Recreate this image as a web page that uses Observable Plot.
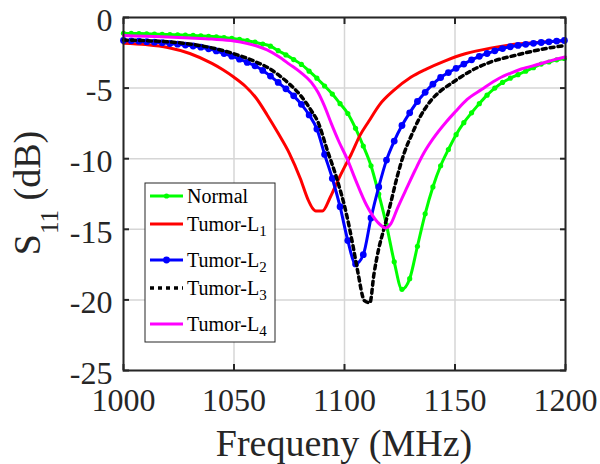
<!DOCTYPE html>
<html><head><meta charset="utf-8">
<script src="https://cdn.jsdelivr.net/npm/d3@7"></script>
<script src="https://cdn.jsdelivr.net/npm/@observablehq/plot@0.6"></script>
<style>
body{margin:0;background:#fff;font-family:'Liberation Serif',Tinos,serif}
#wrap{position:relative;width:600px;height:464px}
#xlabel{position:absolute;left:123px;width:442px;top:421px;text-align:center;font-family:'Liberation Serif',Tinos,serif;font-size:38px;line-height:44px;color:#262626;z-index:2}
</style>
</head><body>
<div id="wrap"><div id="xlabel">Frequeny (MHz)</div><div id="chart"></div></div>
<script>
// Sampling grid of the marked series (MHz)
const freqMarked = d3.range(58).map(i => 1000 + 3.5 * i);
const normal = [-1.12,-1.13,-1.14,-1.15,-1.17,-1.19,-1.21,-1.23,-1.25,-1.27,
  -1.30,-1.33,-1.37,-1.42,-1.48,-1.55,-1.64,-1.75,-1.88,-2.03,
  -2.35,-2.65,-2.98,-3.32,-3.80,-4.30,-4.85,-5.42,-6.10,-6.80,
  -7.85,-9.10,-10.5,-12.5,-14.7,-17.3,-19.25,-18.5,-16.2,-13.9,
  -12.0,-10.5,-9.35,-8.30,-7.45,-6.75,-6.10,-5.50,-5.00,-4.60,
  -4.30,-4.05,-3.80,-3.55,-3.30,-3.15,-3.00,-2.90];
const tumorL2 = [-1.63,-1.65,-1.68,-1.71,-1.75,-1.79,-1.84,-1.89,-1.95,-2.02,
  -2.10,-2.22,-2.37,-2.55,-2.74,-2.95,-3.18,-3.42,-3.75,-4.15,
  -4.60,-5.05,-5.55,-6.15,-6.90,-7.90,-9.70,-11.4,-13.4,-15.8,
  -17.45,-16.8,-14.2,-12.0,-10.1,-8.75,-7.65,-6.75,-5.95,-5.30,
  -4.72,-4.25,-3.90,-3.60,-3.30,-3.00,-2.75,-2.55,-2.36,-2.20,
  -2.07,-1.98,-1.90,-1.83,-1.77,-1.72,-1.67,-1.63];
const tumorL1F = [1000,1010,1020,1030,1040,1045,1050,1055,1060,1065,1070,1075,1080,1083.5,1085.5,1087,1090,1093.5,1097,1100,1103,1107,1111,1116,1122,1130,1137,1145,1155,1166,1178,1190,1200];
const tumorL1 = [-1.82,-1.92,-2.12,-2.55,-3.25,-3.70,-4.23,-4.85,-5.70,-6.90,-8.20,-9.60,-11.4,-12.9,-13.5,-13.7,-13.7,-12.75,-11.55,-10.6,-9.70,-8.35,-7.35,-6.15,-5.20,-4.23,-3.65,-3.10,-2.55,-2.17,-1.88,-1.74,-1.65];
const tumorL3F = [1000,1010,1020,1030,1040,1050,1060,1065,1070,1075,1080,1085,1088,1092,1096.5,1101,1104,1106,1109,1111.5,1113.3,1115.6,1117.8,1120.8,1123.8,1126.9,1130.7,1134,1139,1143.5,1148,1152.5,1157,1166,1177,1188.7,1200];
const tumorL3 = [-1.60,-1.64,-1.72,-1.88,-2.15,-2.57,-3.15,-3.52,-4.05,-4.70,-5.50,-6.60,-7.40,-9.30,-11.4,-14.0,-16.3,-18.0,-20.05,-20.2,-18.2,-16.3,-15.0,-13.2,-11.3,-9.65,-8.20,-7.10,-5.90,-5.20,-4.70,-4.23,-3.80,-3.16,-2.69,-2.27,-1.98];
const tumorL4F = [1000,1010,1020,1030,1040,1050,1060,1065,1070,1075,1080,1085,1088,1091,1094,1097.5,1101.3,1105,1110,1115,1118.6,1121,1124,1128.4,1132,1135.9,1140,1146,1150,1155.5,1162,1170,1175,1180,1188.7,1195,1200];
const tumorL4 = [-1.28,-1.33,-1.38,-1.45,-1.53,-1.66,-2.00,-2.30,-2.75,-3.30,-3.87,-4.60,-5.30,-6.30,-7.50,-8.80,-10.05,-11.5,-13.3,-14.5,-14.9,-14.6,-13.5,-12.0,-10.8,-9.60,-8.60,-7.40,-6.70,-5.80,-5.10,-4.30,-3.95,-3.65,-3.28,-2.98,-2.80];
const xTicks = [1000,1050,1100,1150,1200];
const yTicks = [-25,-20,-15,-10,-5,0];
const seriesNames = ["Normal","Tumor-L1","Tumor-L2","Tumor-L3","Tumor-L4"];
const colors = ["#00ff00","#ff0000","#0000ff","#000000","#ff00ff"];

const toRows = (fs, vs) => fs.map((f, i) => ({f, v: vs[i]}));
const dNormal = toRows(freqMarked, normal);
const dL1 = toRows(tumorL1F, tumorL1);
const dL2 = toRows(freqMarked, tumorL2);
const dL3 = toRows(tumorL3F, tumorL3);
const dL4 = toRows(tumorL4F, tumorL4);

const fam = "Liberation Serif";
const ink = "#262626";

const svg = Plot.plot({
  width: 600, height: 464,
  marginLeft: 123, marginRight: 35, marginTop: 17, marginBottom: 94,
  x: {domain: [1000, 1200]},
  y: {domain: [-25, 0]},
  marks: [
    Plot.gridX(xTicks, {stroke: "#d6d6d6", strokeOpacity: 1, strokeWidth: 1.5}),
    Plot.gridY(yTicks, {stroke: "#d6d6d6", strokeOpacity: 1, strokeWidth: 1.5}),
    Plot.line(dNormal, {x: "f", y: "v", stroke: colors[0], strokeWidth: 3, curve: "monotone-x"}),
    Plot.dot(dNormal, {x: "f", y: "v", fill: colors[0], r: 2.6}),
    Plot.line(dL1, {x: "f", y: "v", stroke: colors[1], strokeWidth: 3, curve: "monotone-x"}),
    Plot.line(dL2, {x: "f", y: "v", stroke: colors[2], strokeWidth: 3, curve: "monotone-x"}),
    Plot.dot(dL2, {x: "f", y: "v", fill: colors[2], r: 3.4}),
    Plot.line(dL3, {x: "f", y: "v", stroke: colors[3], strokeWidth: 3.5, strokeDasharray: "4,4", curve: "monotone-x"}),
    Plot.line(dL4, {x: "f", y: "v", stroke: colors[4], strokeWidth: 3, curve: "monotone-x"}),
    Plot.axisX(xTicks, {anchor: "bottom", tickSize: 0, tickPadding: 18, fontSize: 32, fontFamily: fam, fill: ink, label: null, tickFormat: d => String(d)}),
    Plot.axisY(yTicks, {anchor: "left", tickSize: 0, tickPadding: 11, dy: 3, fontSize: 32, fontFamily: fam, fill: ink, label: null, tickFormat: d => String(d)}),
    Plot.axisX(xTicks, {anchor: "bottom", tickSize: -6, strokeWidth: 2, stroke: ink, tickFormat: () => "", label: null}),
    Plot.axisX(xTicks, {anchor: "top", tickSize: -6, strokeWidth: 2, stroke: ink, tickFormat: () => "", label: null}),
    Plot.axisY(yTicks, {anchor: "left", tickSize: -6, strokeWidth: 2, stroke: ink, tickFormat: () => "", label: null}),
    Plot.axisY(yTicks, {anchor: "right", tickSize: -6, strokeWidth: 2, stroke: ink, tickFormat: () => "", label: null}),
    Plot.frame({stroke: ink, strokeWidth: 2})
  ]
});
document.getElementById("chart").appendChild(svg);

const s = d3.select(svg);
// y-axis title with subscript
const yl = s.append("text").attr("transform", "translate(40,193) rotate(-90)")
  .attr("text-anchor", "middle").attr("font-family", fam).attr("font-size", 38).attr("fill", ink);
yl.append("tspan").text("S");
yl.append("tspan").attr("font-size", 25).attr("dy", 18).text("11");
yl.append("tspan").attr("dy", -18).text(" (dB)");

// legend
const lg = s.append("g").attr("font-family", fam).attr("font-size", 20).attr("fill", "#000")
  .attr("text-anchor", "start");
lg.append("rect").attr("x", 145).attr("y", 183).attr("width", 130).attr("height", 159)
  .attr("fill", "#fff").attr("stroke", ink).attr("stroke-width", 1);
const rowY = [196, 224, 260, 288, 324];
seriesNames.forEach((name, i) => {
  const y = rowY[i];
  const ln = lg.append("line").attr("x1", 150).attr("x2", 183).attr("y1", y).attr("y2", y)
    .attr("stroke", colors[i]).attr("stroke-width", i === 3 ? 3.5 : 3);
  if (i === 3) ln.attr("stroke-dasharray", "4,4");
  if (i === 0) lg.append("circle").attr("cx", 166.5).attr("cy", y).attr("r", 2.6).attr("fill", colors[0]);
  if (i === 2) lg.append("circle").attr("cx", 166.5).attr("cy", y).attr("r", 3.4).attr("fill", colors[2]);
  const t = lg.append("text").attr("x", 187).attr("y", y + 7).attr("text-anchor", "start");
  if (i === 0) t.text(name);
  else {
    t.append("tspan").text("Tumor-L");
    t.append("tspan").attr("font-size", 15).attr("dy", 5).text(name.slice(-1));
  }
});
</script></body></html>
